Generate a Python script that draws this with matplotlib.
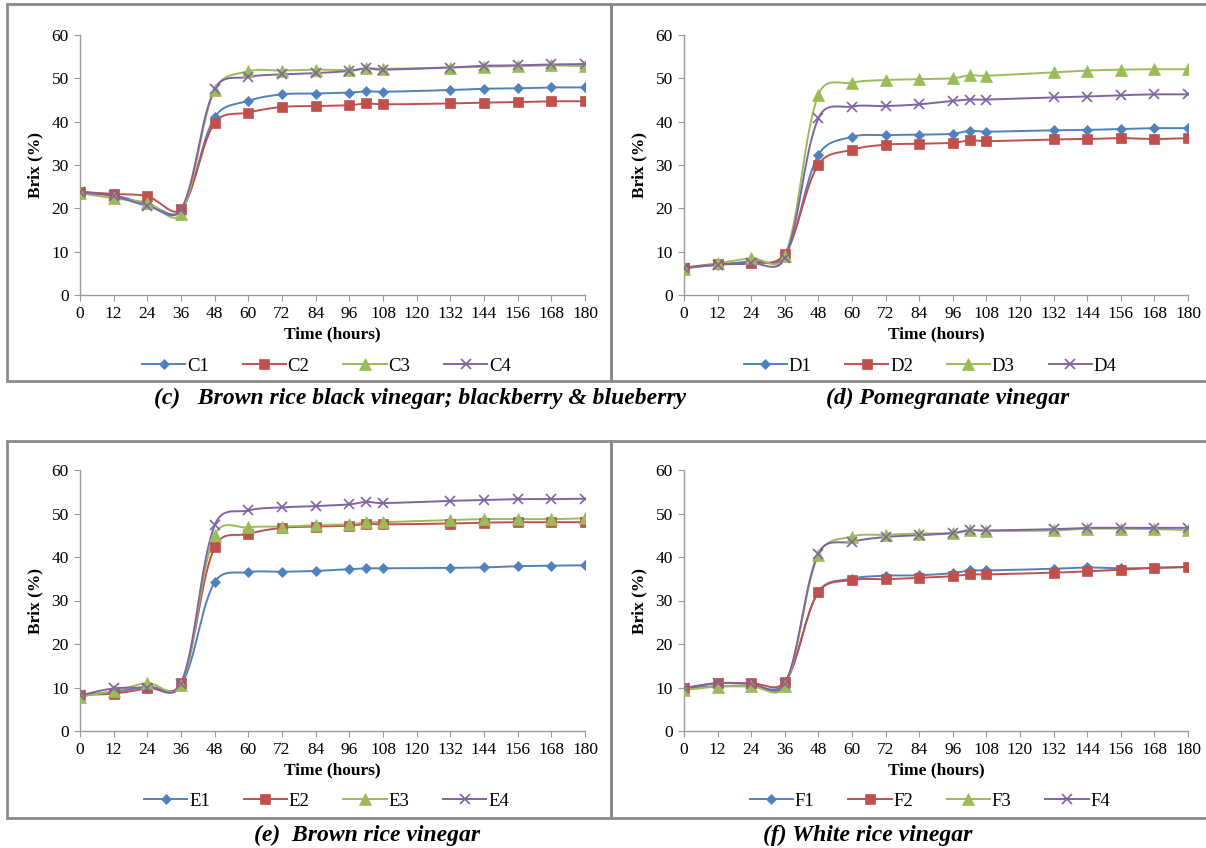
import numpy as np
import matplotlib
matplotlib.use("Agg")
import matplotlib.pyplot as plt
from matplotlib.patches import Rectangle

plt.rcParams['font.family'] = ['Liberation Serif', 'DejaVu Serif']

hours = [0, 12, 24, 36, 48, 60, 72, 84, 96, 102, 108, 132, 144, 156, 168, 180]

## brix readings per sample
C1 = [23.8, 23.0, 21.0, 19.5, 41.0, 44.8, 46.3, 46.5, 46.7, 47.0, 46.9, 47.3, 47.6, 47.7, 47.9, 47.9]
C2 = [23.8, 23.3, 22.8, 19.8, 39.7, 42.1, 43.4, 43.6, 43.8, 44.2, 44.0, 44.2, 44.4, 44.5, 44.7, 44.7]
C3 = [23.5, 22.3, 21.3, 18.8, 47.3, 51.6, 51.8, 52.0, 51.9, 52.3, 52.2, 52.5, 52.7, 52.8, 53.0, 52.8]
C4 = [23.7, 22.8, 20.6, 19.7, 47.5, 50.3, 50.9, 51.2, 51.7, 52.3, 52.0, 52.5, 52.9, 53.0, 53.2, 53.3]

D1 = [6.2, 7.0, 7.8, 9.0, 32.3, 36.5, 36.9, 37.0, 37.2, 37.9, 37.7, 38.0, 38.1, 38.3, 38.5, 38.5]
D2 = [6.3, 7.2, 7.3, 9.5, 30.1, 33.5, 34.7, 34.9, 35.1, 35.7, 35.5, 35.9, 36.0, 36.2, 36.0, 36.2]
D3 = [6.0, 7.3, 8.5, 9.0, 46.2, 49.0, 49.6, 49.8, 50.0, 50.7, 50.6, 51.4, 51.8, 52.0, 52.1, 52.1]
D4 = [6.3, 7.0, 7.3, 8.5, 40.8, 43.5, 43.6, 44.0, 44.8, 45.1, 45.1, 45.6, 45.8, 46.1, 46.3, 46.3]

E1 = [8.2, 9.0, 10.2, 10.5, 34.2, 36.5, 36.6, 36.8, 37.2, 37.4, 37.4, 37.5, 37.6, 37.9, 38.0, 38.1]
E2 = [8.3, 8.6, 9.8, 11.0, 42.3, 45.3, 46.7, 47.0, 47.2, 47.6, 47.5, 47.7, 47.9, 48.0, 48.0, 48.0]
E3 = [7.9, 9.2, 11.0, 10.5, 45.0, 46.8, 47.0, 47.3, 47.5, 48.0, 48.0, 48.5, 48.7, 48.7, 48.7, 48.9]
E4 = [8.2, 9.8, 10.0, 10.8, 47.3, 50.7, 51.4, 51.7, 52.1, 52.7, 52.4, 52.9, 53.1, 53.3, 53.3, 53.4]

F1 = [9.8, 10.3, 10.3, 10.9, 32.0, 35.0, 35.7, 35.8, 36.3, 36.9, 36.9, 37.3, 37.6, 37.4, 37.5, 37.7]
F2 = [9.8, 11.0, 11.0, 11.3, 31.9, 34.7, 34.9, 35.2, 35.6, 36.0, 36.0, 36.4, 36.7, 37.1, 37.5, 37.7]
F3 = [9.4, 10.2, 10.3, 10.4, 40.5, 44.7, 45.1, 45.4, 45.5, 46.3, 46.0, 46.1, 46.5, 46.5, 46.4, 46.2]
F4 = [9.9, 11.0, 10.8, 10.8, 40.8, 43.5, 44.6, 45.0, 45.5, 46.1, 46.1, 46.4, 46.7, 46.7, 46.7, 46.7]

panels = [
    (['C1', 'C2', 'C3', 'C4'], [C1, C2, C3, C4]),
    (['D1', 'D2', 'D3', 'D4'], [D1, D2, D3, D4]),
    (['E1', 'E2', 'E3', 'E4'], [E1, E2, E3, E4]),
    (['F1', 'F2', 'F3', 'F4'], [F1, F2, F3, F4]),
]
captions = ['(c)   Brown rice black vinegar; blackberry & blueberry',
            '(d) Pomegranate vinegar',
            '(e)  Brown rice vinegar',
            '(f) White rice vinegar']

colors = ['#4F81BD', '#C0504D', '#9BBB59', '#8064A2']
markers = ['D', 's', '^', 'x']
msizes = [5, 7, 9, 7]


def smooth(x, y, n=20):
    # excel-ish smoothed line: bezier through the points,
    # tangent half catmull-rom, half chord-length weighted (less overshoot)
    sx, sy = 505.0 / 180, 260.0 / 60
    P = np.column_stack([np.asarray(x, float) * sx, np.asarray(y, float) * sy])
    P = np.vstack([P[0], P, P[-1]])
    t = np.linspace(0, 1, n)[:, None]
    out = []
    for i in range(1, len(P) - 2):
        p0, p1, p2, p3 = P[i - 1], P[i], P[i + 1], P[i + 2]
        d01 = np.hypot(*(p1 - p0))
        d12 = np.hypot(*(p2 - p1))
        d23 = np.hypot(*(p3 - p2))
        f1 = d12 / (d01 + d12) if d01 + d12 > 0 else 0.5
        f2 = d12 / (d12 + d23) if d12 + d23 > 0 else 0.5
        c1 = p1 + (p2 - p0) * (0.5 + f1) / 2 / 3
        c2 = p2 - (p3 - p1) * (0.5 + f2) / 2 / 3
        b = (1 - t) ** 3 * p1 + 3 * (1 - t) ** 2 * t * c1 + 3 * (1 - t) * t ** 2 * c2 + t ** 3 * p2
        out.append(b)
    out = np.vstack(out)
    return out[:, 0] / sx, out[:, 1] / sy


fig = plt.figure(figsize=(12.06, 8.48), dpi=100)

## panel frames (pixels -> fig fraction)
W, H = 1206.0, 848.0
frames = [(7, 4, 611, 381), (611, 4, 1210, 381), (7, 441, 611, 818), (611, 441, 1210, 818)]
for (x0, y0, x1, y1) in frames:
    fig.patches.append(Rectangle((x0 / W, 1 - y1 / H), (x1 - x0) / W, (y1 - y0) / H,
                                 transform=fig.transFigure, fill=False,
                                 edgecolor='#8a8a8a', linewidth=2))

axpos = [(80, 35, 585, 295), (684, 35, 1188, 295), (80, 470, 585, 731), (684, 470, 1188, 731)]
legend_y = [366, 366, 801, 801]
cap_pos = [(420, 398), (948, 398), (367, 835), (868, 835)]

for k in range(4):
    x0, y0, x1, y1 = axpos[k]
    ax = fig.add_axes([x0 / W, 1 - y1 / H, (x1 - x0) / W, (y1 - y0) / H])
    names, series = panels[k]
    handles = []
    for i in range(4):
        sx, sy = smooth(hours, series[i])
        ax.plot(sx, sy, color=colors[i], linewidth=1.4, zorder=2)
        mew = 1.2 if markers[i] == 'x' else 0.5
        ax.plot(hours, series[i], linestyle='none', marker=markers[i], markersize=msizes[i],
                color=colors[i], markeredgewidth=mew, zorder=3)
        h, = ax.plot([], [], color=colors[i], linewidth=1.4, marker=markers[i],
                     markersize=msizes[i], markeredgewidth=mew)
        handles.append(h)
    ax.set_xlim(0, 180)
    ax.set_ylim(0, 60)
    ax.set_xticks(range(0, 181, 12))
    ax.set_yticks(range(0, 61, 10))
    for s in ['top', 'right']:
        ax.spines[s].set_visible(False)
    for s in ['left', 'bottom']:
        ax.spines[s].set_color('#9a9a9a')
        ax.spines[s].set_linewidth(1)
    ax.tick_params(axis='both', color='#9a9a9a', length=4, labelsize=12.5, pad=4)
    ax.set_xlabel('Time (hours)', fontweight='bold', fontsize=12.5, labelpad=3)
    ax.set_ylabel('Brix (%)', fontweight='bold', fontsize=12.5, labelpad=6)
    ax.patch.set_alpha(0)
    cx = (x0 + x1) / 2 / W
    fig.legend(handles, names, loc='center', bbox_to_anchor=(cx - 6 / W, 1 - legend_y[k] / H),
               ncol=4, frameon=False, fontsize=13.5, handlelength=2.3, handletextpad=0.1,
               columnspacing=1.8)
    fig.text(cap_pos[k][0] / W, 1 - cap_pos[k][1] / H, captions[k], ha='center', va='center',
             fontsize=17, fontweight='bold', fontstyle='italic')

fig.savefig('out.png', dpi=100)
